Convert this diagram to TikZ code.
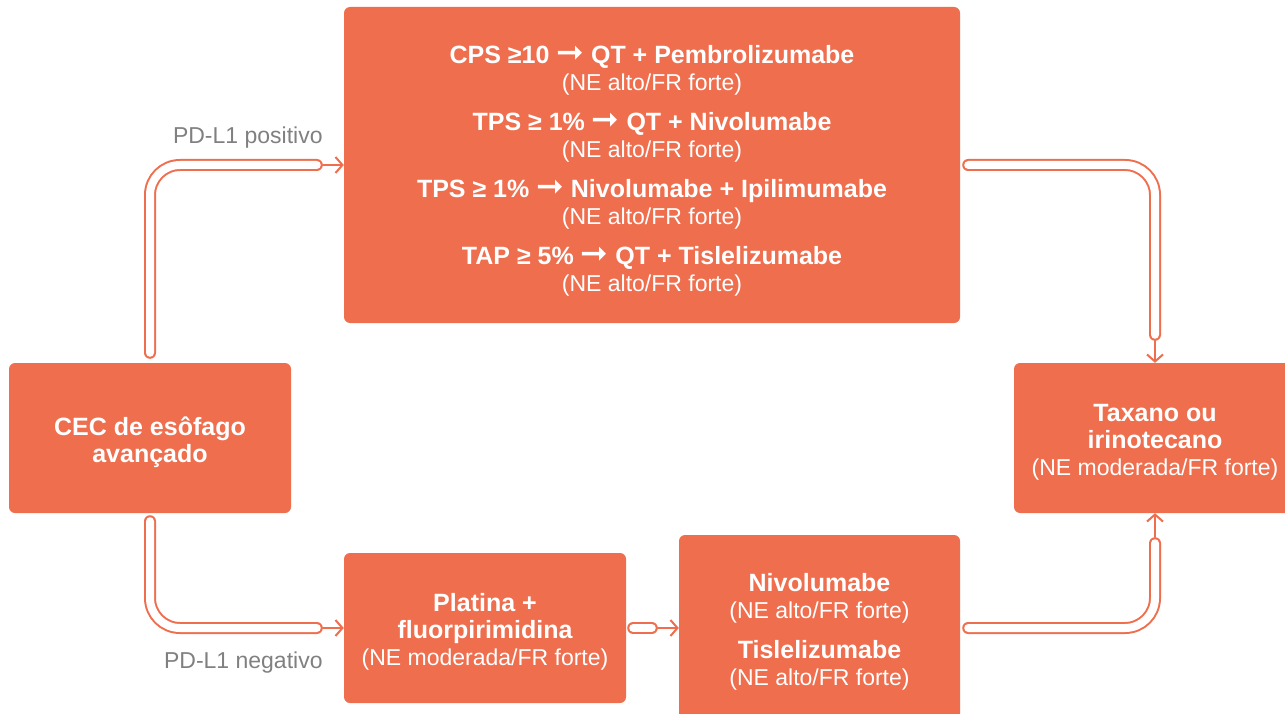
\documentclass[tikz,border=0pt]{standalone}
\usepackage{fontspec}
\setmainfont{Liberation Sans}
\newfontfamily\symfont{DejaVu Sans}
\usetikzlibrary{arrows.meta,positioning,calc}
\definecolor{coral}{RGB}{238,110,78}
\definecolor{labelgray}{RGB}{128,128,128}
\newcommand{\yields}{{\symfont\bfseries\fontsize{33}{27}\selectfont ➞}}
\newcommand{\drug}[1]{{\fontsize{25}{27}\selectfont\bfseries #1}}
\newcommand{\grade}[1]{(NE #1/FR forte)}
\newcommand{\lift}[1]{\rule{0pt}{#1}}
\begin{document}
\begin{tikzpicture}[x=1pt,y=1pt,yscale=-1,
  box/.style={fill=coral, rounded corners=6pt, text=white, align=center, inner sep=0pt, font=\fontsize{23}{27}\selectfont},
  tube/.style={draw=coral, line width=2pt, double=white, double distance=8pt, line cap=round, rounded corners=30pt},
  arrowline/.style={draw=coral, line width=2pt, line cap=round, -{Straight Barb[length=7pt,width=16pt]}},
  pdlabel/.style={text=labelgray, font=\fontsize{23}{27}\selectfont, inner sep=0pt}]
\useasboundingbox (0,0) rectangle (1285,714);

%Shape: Rectangle [first line]
\node (first) [box, minimum width=616pt, minimum height=316pt] at (652,165) {%
\lift{30pt}\drug{CPS ≥10 \yields\ QT + Pembrolizumabe}\\ \grade{alto}\\[13pt]
\drug{TPS ≥ 1\% \yields\ QT + Nivolumabe}\\ \grade{alto}\\[13pt]
\drug{TPS ≥ 1\% \yields\ Nivolumabe + Ipilimumabe}\\ \grade{alto}\\[13pt]
\drug{TAP ≥ 5\% \yields\ QT + Tislelizumabe}\\ \grade{alto}};
%Shape: Rectangle [start]
\node (cec) [box, minimum width=282pt, minimum height=150pt] at (150,438) {\lift{27pt}\drug{CEC de esôfago}\\ \drug{avançado}};
%Shape: Rectangle [later line]
\node (taxano) [box, minimum width=282pt, minimum height=150pt] at (1155,438) {\lift{26pt}\drug{Taxano ou}\\ \drug{irinotecano}\\ \grade{moderada}};
%Shape: Rectangle [chemo]
\node (platina) [box, minimum width=282pt, minimum height=150pt] at (485,628) {\lift{26pt}\drug{Platina +}\\ \drug{fluorpirimidina}\\ \grade{moderada}};
%Shape: Rectangle [maintenance]
\node (niv) [box, minimum width=281pt, minimum height=186pt] at (819.5,628) {\lift{25pt}\drug{Nivolumabe}\\ \grade{alto}\\[13pt] \drug{Tislelizumabe}\\ \grade{alto}};

%Arrow ends
\coordinate (posarrow) at ($(first.west)+(-21,0)$);
\coordinate (negarrow) at ($(platina.west)+(-21,0)$);
\coordinate (midarrow) at ($(niv.west)+(-21,0)$);
\coordinate (toparrow) at ($(taxano.north)+(0,-22)$);
\coordinate (botarrow) at ($(taxano.south)+(0,24)$);

%Straight Lines
\draw [arrowline] (posarrow) -- (first.west);
\draw [arrowline] (negarrow) -- (platina.west);
\draw [arrowline] (midarrow) -- (niv.west);
\draw [arrowline] (toparrow) -- (taxano.north);
\draw [arrowline] (botarrow) -- (taxano.south);

%Tubes
\draw [tube] ($(cec.north)+(0,-10)$) |- ($(first.west)+(-27,0)$);
\draw [tube] ($(cec.south)+(0,8)$) |- ($(platina.west)+(-27,0)$);
\draw [tube] ($(platina.east)+(7,0)$) -- ($(niv.west)+(-27,0)$);
\draw [tube] ($(first.east)+(8,0)$) -| ($(taxano.north)+(0,-28)$);
\draw [tube] ($(niv.east)+(8,0)$) -| ($(taxano.south)+(0,30)$);

% Text Node
\node (poslabel) [pdlabel, above left=17pt and 0pt of posarrow] {PD-L1 positivo};
% Text Node
\node (neglabel) [pdlabel, below left=24pt and 0pt of negarrow] {PD-L1 negativo};

\end{tikzpicture}
\end{document}
